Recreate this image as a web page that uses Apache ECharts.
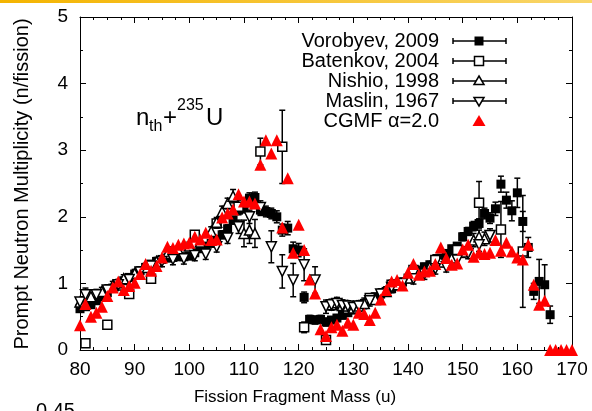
<!DOCTYPE html>
<html>
<head>
<meta charset="utf-8">
<script src="https://cdn.jsdelivr.net/npm/echarts@6/dist/echarts.min.js"></script>
<style>
html,body{margin:0;padding:0;background:#fff;}
#chart{width:592px;height:411px;}
</style>
</head>
<body>
<div id="chart"></div>
<script>
// ---------------- DATA ----------------
const xTicks = [80, 90, 100, 110, 120, 130, 140, 150, 160, 170];
const yTicks = [0, 1, 2, 3, 4, 5];

const vorMass = [80,81,82,83,84,85,86,87,88,89,90,91,92,93,94,95,96,97,98,99,100,101,102,103,104,105,106,107,108,109,110,111,112,113,114,115,116,117,118,119,120,121,122,123,124,125,126,127,128,129,130,131,132,133,134,135,136,137,138,139,140,141,142,143,144,145,146,147,148,149,150,151,152,153,154,155,156,157,158,159,160,161,162,163,164,165,166];
const vorNu = [0.62,0.65,0.68,0.74,0.80,0.86,0.93,0.99,1.04,1.09,1.14,1.19,1.24,1.29,1.33,1.36,1.38,1.39,1.40,1.40,1.41,1.46,1.52,1.56,1.60,1.66,1.73,1.82,1.95,2.10,2.13,2.28,2.29,2.10,2.08,2.05,2.00,1.80,1.83,1.52,1.50,0.79,0.46,0.45,0.46,0.42,0.45,0.48,0.52,0.56,0.60,0.65,0.70,0.76,0.80,0.84,0.88,0.92,0.96,1.02,1.08,1.13,1.20,1.25,1.28,1.33,1.38,1.45,1.52,1.56,1.70,1.78,1.86,1.90,2.05,1.98,2.12,2.49,2.25,2.09,2.36,1.93,1.54,0.88,1.03,0.98,0.53];
const vorErr = [0.05,0.05,0.05,0.05,0.05,0.05,0.05,0.05,0.05,0.05,0.05,0.05,0.05,0.05,0.05,0.05,0.05,0.05,0.05,0.05,0.05,0.05,0.05,0.05,0.05,0.05,0.06,0.06,0.06,0.07,0.07,0.08,0.08,0.08,0.08,0.08,0.09,0.09,0.10,0.10,0.10,0.08,0.06,0.06,0.06,0.06,0.05,0.05,0.05,0.05,0.05,0.05,0.05,0.05,0.05,0.05,0.05,0.05,0.05,0.05,0.05,0.05,0.05,0.05,0.05,0.05,0.05,0.05,0.05,0.05,0.06,0.06,0.07,0.07,0.08,0.08,0.10,0.12,0.12,0.15,0.22,0.15,0.15,0.12,0.33,0.30,0.13];

const batMass = [81,85,89,93,97,101,105,109,113,117,121,125,129,133,137,141,145,149,153,157,161];
const batNu = [0.10,0.38,0.84,1.07,1.48,1.73,1.90,2.15,2.98,3.05,0.34,0.15,0.62,0.78,0.98,1.20,1.35,1.50,2.21,1.81,1.48];
const batErr = [0.05,0.05,0.05,0.05,0.06,0.06,0.07,0.10,0.20,0.55,0.08,0.06,0.06,0.06,0.07,0.07,0.08,0.10,0.32,0.42,0.84];

const nisMass = [80,82,84,86,88,90,92,94,96,98,100,102,104,105,106,107,108,110,111,112,126,127,128,129,130,131,132,134,136,138,140,142,144,146,148,150,152,153,154];
const nisNu = [0.72,0.80,0.88,0.97,1.07,1.15,1.24,1.33,1.45,1.50,1.56,1.62,1.78,1.92,2.08,2.20,2.31,1.75,1.80,1.75,0.68,0.71,0.67,0.66,0.63,0.66,0.70,0.76,0.88,0.98,1.08,1.16,1.25,1.32,1.38,1.47,1.65,1.70,1.67];
const nisErr = [0.08,0.06,0.06,0.06,0.06,0.06,0.06,0.06,0.06,0.06,0.06,0.06,0.07,0.07,0.08,0.08,0.10,0.20,0.20,0.21,0.08,0.08,0.08,0.08,0.08,0.08,0.08,0.07,0.07,0.07,0.07,0.07,0.07,0.07,0.07,0.08,0.10,0.10,0.10];

const masMass = [80,81,83,85,87,89,91,93,95,97,99,101,103,105,107,109,111,113,115,117,119,121,123,125,126,127,128,129,130,131,133,135,137,139,141,143,145,147,149,151,153,155];
const masNu = [0.72,0.83,0.83,0.90,0.98,1.06,1.17,1.26,1.33,1.36,1.37,1.42,1.44,1.55,1.68,1.85,2.00,2.14,1.55,1.18,1.05,1.28,1.05,0.65,0.68,0.70,0.67,0.66,0.64,0.66,0.74,0.84,0.94,1.00,1.07,1.14,1.22,1.25,1.35,1.45,1.58,1.72];
const masErr = [0.08,0.10,0.08,0.08,0.08,0.08,0.08,0.08,0.08,0.08,0.08,0.08,0.08,0.08,0.08,0.10,0.10,0.10,0.24,0.25,0.25,0.24,0.20,0.10,0.08,0.08,0.08,0.08,0.08,0.08,0.08,0.08,0.08,0.08,0.08,0.08,0.08,0.08,0.08,0.08,0.10,0.10];

const cgmfMass = [80,81,82,83,84,85,86,87,88,89,90,91,92,93,94,95,96,97,98,99,100,101,102,103,104,105,106,107,108,109,110,111,112,113,114,115,116,117,118,119,120,121,122,123,124,125,126,127,128,129,130,131,132,133,134,135,136,137,138,139,140,141,142,143,144,145,146,147,148,149,150,151,152,153,154,155,156,157,158,159,160,161,162,163,164,165,166,167,168,169,170];
const cgmfNu = [0.37,0.69,0.50,0.56,0.65,0.81,0.94,1.03,0.90,0.96,1.01,1.14,1.29,1.19,1.26,1.39,1.55,1.53,1.58,1.60,1.61,1.70,1.66,1.76,1.65,1.66,1.99,2.05,2.11,2.34,2.23,2.23,2.20,2.78,3.15,2.95,3.15,1.84,2.58,1.46,1.88,1.50,1.06,0.85,0.31,0.21,0.34,0.38,0.29,0.41,0.38,0.56,0.54,0.45,0.56,0.76,0.90,1.03,1.05,0.97,1.16,1.29,1.13,1.18,1.19,1.29,1.54,1.38,1.28,1.30,1.51,1.58,1.40,1.46,1.44,1.46,1.65,1.49,1.61,1.48,1.39,1.36,1.58,0.98,0.68,0.74,0,0,0,0,0];

const legendNames = ['Vorobyev, 2009', 'Batenkov, 2004', 'Nishio, 1998', 'Maslin, 1967', 'CGMF \u03b1=2.0'];

// ---------------- CHART ----------------
const FONT = '"Liberation Sans", Arial, Helvetica, sans-serif';
const chart = echarts.init(document.getElementById('chart'), null, {renderer: 'canvas'});

function zip3(a, b, c) { return a.map((v, i) => [v, b[i], c[i]]); }
function zip2(a, b) { return a.map((v, i) => [v, b[i]]); }

function errRender(params, api) {
  const x = api.value(0), y = api.value(1), e = api.value(2);
  const t = api.coord([x, y + e]);
  const b = api.coord([x, y - e]);
  const c = 3;
  const st = {stroke: '#000', lineWidth: 1.5};
  return {type: 'group', children: [
    {type: 'line', shape: {x1: t[0], y1: t[1], x2: b[0], y2: b[1]}, style: st},
    {type: 'line', shape: {x1: t[0] - c, y1: t[1], x2: t[0] + c, y2: t[1]}, style: st},
    {type: 'line', shape: {x1: b[0] - c, y1: b[1], x2: b[0] + c, y2: b[1]}, style: st}
  ]};
}

function errSeries(m, v, e) {
  return {type: 'custom', renderItem: errRender, data: zip3(m, v, e), clip: true,
          encode: {x: 0, y: 1}, silent: true, animation: false};
}
function markSeries(m, v, sym, size, color, border, rot) {
  return {type: 'scatter', data: zip2(m, v), symbol: sym, symbolSize: size, symbolRotate: rot || 0,
          itemStyle: {color: color, borderColor: border ? '#000' : color, borderWidth: border ? 1.5 : 0, opacity: 1},
          animation: false, silent: true};
}

const axisCommon = {
  min: 80, max: 170, interval: 10,
  axisLine: {show: true, onZero: false, lineStyle: {color: '#000', width: 1}},
  axisTick: {show: true, inside: true, length: 6, lineStyle: {color: '#000', width: 1}},
  minorTick: {show: true, splitNumber: 4, length: 3, lineStyle: {color: '#000', width: 1}},
  splitLine: {show: false}
};
const yCommon = {
  min: 0, max: 5, interval: 1,
  axisLine: {show: true, onZero: false, lineStyle: {color: '#000', width: 1}},
  axisTick: {show: true, inside: true, length: 6, lineStyle: {color: '#000', width: 1}},
  minorTick: {show: true, splitNumber: 2, length: 3, lineStyle: {color: '#000', width: 1}},
  splitLine: {show: false}
};

// legend graphics
const legendGraphics = [];
const legX = 439, sx1 = 453, sx2 = 506, smx = 479;
legendNames.forEach((name, i) => {
  const y = 41 + i * 20;
  legendGraphics.push({type: 'text', x: legX, y: y, silent: true,
    style: {text: name, font: '20px ' + FONT, fill: '#000', align: 'right', verticalAlign: 'middle'}});
  if (i < 4) {
    const st = {stroke: '#000', lineWidth: 1.5};
    legendGraphics.push({type: 'line', shape: {x1: sx1, y1: y, x2: sx2, y2: y}, style: st, silent: true});
    legendGraphics.push({type: 'line', shape: {x1: sx1, y1: y - 3, x2: sx1, y2: y + 3}, style: st, silent: true});
    legendGraphics.push({type: 'line', shape: {x1: sx2, y1: y - 3, x2: sx2, y2: y + 3}, style: st, silent: true});
  }
  if (i === 0) legendGraphics.push({type: 'rect', shape: {x: smx - 4.5, y: y - 4.5, width: 9, height: 9}, style: {fill: '#000'}, silent: true});
  if (i === 1) legendGraphics.push({type: 'rect', shape: {x: smx - 4.5, y: y - 4.5, width: 9, height: 9}, style: {fill: '#fff', stroke: '#000', lineWidth: 1.5}, silent: true});
  if (i === 2) legendGraphics.push({type: 'polygon', shape: {points: [[smx, y - 5], [smx + 5, y + 3.5], [smx - 5, y + 3.5]]}, style: {fill: '#fff', stroke: '#000', lineWidth: 1.5}, silent: true});
  if (i === 3) legendGraphics.push({type: 'polygon', shape: {points: [[smx, y + 5], [smx + 5, y - 3.5], [smx - 5, y - 3.5]]}, style: {fill: '#fff', stroke: '#000', lineWidth: 1.5}, silent: true});
  if (i === 4) legendGraphics.push({type: 'polygon', shape: {points: [[smx, y - 6], [smx + 6.5, y + 5], [smx - 6.5, y + 5]]}, style: {fill: '#f00'}, silent: true});
});

const option = {
  backgroundColor: '#fff',
  animation: false,
  grid: {left: 80, right: 20, top: 17, bottom: 61, containLabel: false},
  xAxis: [
    Object.assign({type: 'value', position: 'bottom',
      axisLabel: {show: true, margin: 10, color: '#000', fontSize: 19, fontFamily: FONT,
        customValues: xTicks}}, axisCommon),
    Object.assign({type: 'value', position: 'top', axisLabel: {show: false}}, axisCommon)
  ],
  yAxis: [
    Object.assign({type: 'value', position: 'left',
      axisLabel: {show: true, margin: 12, color: '#000', fontSize: 19, fontFamily: FONT,
        customValues: yTicks}}, yCommon),
    Object.assign({type: 'value', position: 'right', axisLabel: {show: false}}, yCommon)
  ],
  series: [
    errSeries(vorMass, vorNu, vorErr),
    markSeries(vorMass, vorNu, 'rect', 9, '#000', false),
    errSeries(batMass, batNu, batErr),
    markSeries(batMass, batNu, 'rect', 9, '#fff', true),
    errSeries(nisMass, nisNu, nisErr),
    markSeries(nisMass, nisNu, 'triangle', 10, '#fff', true),
    errSeries(masMass, masNu, masErr),
    markSeries(masMass, masNu, 'triangle', 10, '#fff', true, 180),
    markSeries(cgmfMass, cgmfNu, 'triangle', 12, '#ff0000', false)
  ],
  graphic: [
    {type: 'rect', shape: {x: 0, y: 0, width: 592, height: 3}, silent: true,
      style: {fill: new echarts.graphic.LinearGradient(0, 0, 1, 0, [{offset: 0, color: '#F4B400'}, {offset: 1, color: '#F9D66A'}])}},
    {type: 'text', x: 22, y: 184, rotation: Math.PI / 2, silent: true,
      style: {text: 'Prompt Neutron Multiplicity (n/fission)', font: '20px ' + FONT, fill: '#000', align: 'center', verticalAlign: 'middle'}},
    {type: 'text', x: 295, y: 397, silent: true,
      style: {text: 'Fission Fragment Mass (u)', font: '17px ' + FONT, fill: '#000', align: 'center', verticalAlign: 'middle'}},
    {type: 'text', x: 36, y: 401, silent: true,
      style: {text: '0.45', font: '20px ' + FONT, fill: '#000', align: 'left', verticalAlign: 'top'}},
    {type: 'text', x: 136, y: 118, silent: true,
      style: {text: 'n', font: '24px ' + FONT, fill: '#000', align: 'left', verticalAlign: 'middle'}},
    {type: 'text', x: 149, y: 127, silent: true,
      style: {text: 'th', font: '16px ' + FONT, fill: '#000', align: 'left', verticalAlign: 'middle'}},
    {type: 'text', x: 163, y: 118, silent: true,
      style: {text: '+', font: '24px ' + FONT, fill: '#000', align: 'left', verticalAlign: 'middle'}},
    {type: 'text', x: 177, y: 106, silent: true,
      style: {text: '235', font: '16px ' + FONT, fill: '#000', align: 'left', verticalAlign: 'middle'}},
    {type: 'text', x: 206, y: 118, silent: true,
      style: {text: 'U', font: '24px ' + FONT, fill: '#000', align: 'left', verticalAlign: 'middle'}}
  ].concat(legendGraphics)
};
chart.setOption(option);
</script>
</body>
</html>
